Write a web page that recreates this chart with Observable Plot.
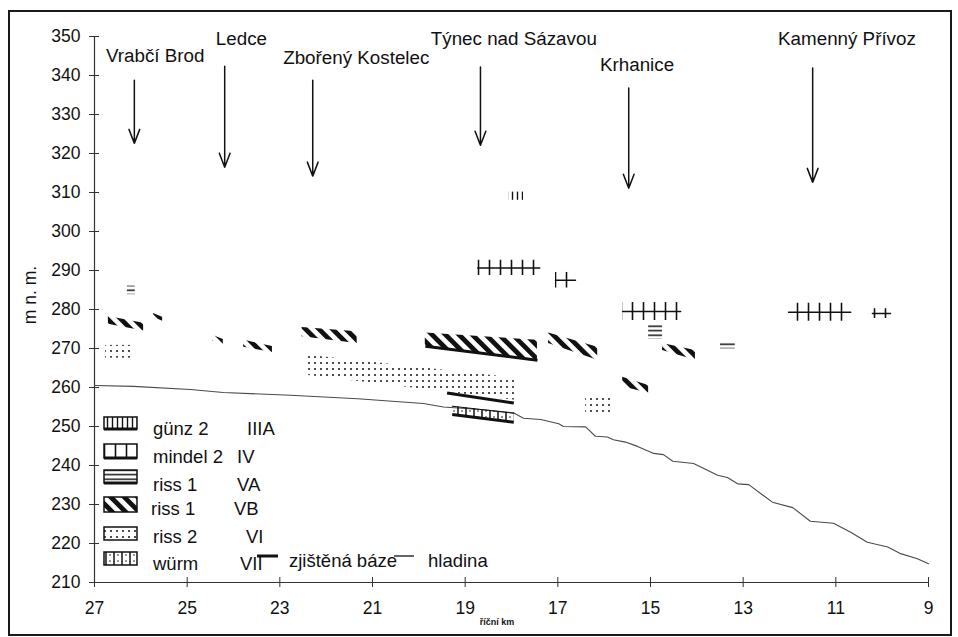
<!DOCTYPE html>
<html>
<head>
<meta charset="utf-8">
<script src="https://cdn.jsdelivr.net/npm/d3@7"></script>
<script src="https://cdn.jsdelivr.net/npm/@observablehq/plot@0.6"></script>
<style>
  body { margin: 0; background: #fff; font-family: "Liberation Sans", Arial, sans-serif; }
  #wrap { position: relative; width: 958px; height: 637px; overflow: hidden; }
  #wrap > svg { position: absolute; left: 0; top: 0; }
  #frame { position: absolute; left: 8px; top: 10px; width: 940px; height: 622px; border: 2px solid #1a1a1a; pointer-events: none; }
</style>
</head>
<body>
<svg width="0" height="0" style="position:absolute">
  <defs>
    <pattern id="pIIIA" width="5" height="5" patternUnits="userSpaceOnUse">
      <line x1="2.5" y1="0" x2="2.5" y2="5" stroke="#111" stroke-width="1.4"/>
    </pattern>
    <pattern id="pIV" width="11" height="10" patternUnits="userSpaceOnUse">
      <line x1="5.5" y1="0" x2="5.5" y2="10" stroke="#111" stroke-width="1.6"/>
    </pattern>
    <pattern id="pVA" width="6" height="4.5" patternUnits="userSpaceOnUse">
      <line x1="0" y1="2.2" x2="6" y2="2.2" stroke="#111" stroke-width="1.5"/>
    </pattern>
    <pattern id="pVB" width="9.5" height="9.5" patternUnits="userSpaceOnUse" patternTransform="rotate(-45)">
      <rect x="0" y="0" width="4.8" height="9.5" fill="#111"/>
    </pattern>
    <pattern id="pVI" width="6" height="6" patternUnits="userSpaceOnUse">
      <circle cx="3" cy="3" r="1.1" fill="#222"/>
    </pattern>
    <pattern id="pVII" width="8" height="6" patternUnits="userSpaceOnUse">
      <line x1="2" y1="0" x2="2" y2="6" stroke="#111" stroke-width="1.5"/>
      <circle cx="6" cy="3" r="0.8" fill="#111"/>
    </pattern>
  </defs>
</svg>
<div id="wrap"><div id="frame"></div></div>
<script>
// ---- data ----
const kmTicks = [27, 25, 23, 21, 19, 17, 15, 13, 11, 9];
const elevTicks = [210, 220, 230, 240, 250, 260, 270, 280, 290, 300, 310, 320, 330, 340, 350];

const riverKm = [27.0, 26.16, 24.93, 24.22, 22.77, 21.32, 19.9, 19.47, 18.6, 17.96,
  17.74, 17.37, 16.98, 16.88, 16.4, 16.19, 15.93, 15.8, 15.54, 15.28,
  14.93, 14.72, 14.52, 14.07, 13.55, 13.34, 13.12, 12.88, 12.37, 11.93,
  11.55, 11.05, 10.68, 10.32, 9.88, 9.6, 9.24, 9.0];
const riverLevel = [260.5, 260.3, 259.5, 258.7, 258.0, 257.1, 255.9, 255.0, 254.3, 253.5,
  252.1, 251.8, 250.7, 250.0, 249.9, 247.5, 247.3, 246.6, 246.0, 244.9,
  243.1, 242.8, 241.1, 240.5, 237.5, 236.9, 235.3, 235.1, 230.6, 229.2,
  225.7, 225.2, 222.9, 220.3, 219.1, 217.4, 216.1, 214.8];

const places = ["Vrabčí Brod", "Ledce", "Zbořený Kostelec", "Týnec nad Sázavou", "Krhanice", "Kamenný Přívoz"];
const labelKm = [25.69, 23.83, 21.35, 17.95, 15.29, 10.76];
const labelElev = [345.0, 349.4, 344.6, 349.4, 342.7, 349.4];
const arrowKm = [26.14, 24.19, 22.29, 18.67, 15.47, 11.5];
const arrowFrom = [338.8, 342.4, 338.8, 342.2, 336.8, 341.9];
const arrowTo = [322.6, 316.5, 314.2, 322.1, 311.1, 312.6];

// terrace fragments: [kmFrom, kmTo, topFrom, topTo, baseFrom, baseTo]
const terraceIIIA = [[18.06, 17.74, 310.1, 310.1, 308.0, 308.0]];
const terraceIV = [
  [18.73, 17.39, 292.6, 292.6, 288.7, 288.7],
  [17.05, 16.62, 289.5, 289.5, 285.5, 285.5],
  [15.6, 14.35, 281.8, 281.8, 277.2, 277.2],
  [12.02, 10.68, 281.6, 281.6, 277.0, 277.0],
  [10.21, 9.82, 280.2, 280.2, 277.7, 277.7]
];
const terraceVA = [
  [26.29, 26.12, 286.0, 286.0, 283.8, 283.8],
  [15.04, 14.74, 276.0, 276.0, 272.3, 272.3],
  [13.49, 13.17, 271.7, 271.7, 269.9, 269.9]
];
const terraceVB = [
  [26.7, 25.94, 278.2, 276.5, 276.2, 274.5],
  [25.73, 25.53, 279.0, 278.0, 278.0, 277.0],
  [24.45, 24.22, 273.4, 272.3, 272.0, 270.7],
  [23.78, 23.16, 272.1, 270.5, 270.3, 269.0],
  [22.52, 21.33, 275.4, 274.3, 273.0, 271.3],
  [19.86, 17.44, 274.0, 272.1, 270.6, 267.0],
  [17.2, 16.14, 274.0, 270.3, 271.3, 267.0],
  [15.6, 15.04, 262.6, 260.5, 260.2, 258.5],
  [14.74, 14.03, 271.3, 269.5, 269.5, 267.0]
];
const terraceVI = [
  [26.76, 26.18, 270.8, 270.8, 267.5, 267.5],
  [22.38, 17.9, 268.3, 262.4, 263.1, 256.7],
  [16.4, 15.82, 257.5, 257.5, 253.6, 253.6]
];
const terraceVII = [[19.28, 17.95, 255.2, 253.4, 253.1, 251.1]];
// confirmed base lines: [kmFrom, kmTo, elevFrom, elevTo]
const confirmedBase = [
  [19.86, 17.44, 270.6, 267.0],
  [19.39, 17.95, 258.6, 256.0],
  [19.28, 17.95, 253.1, 251.1]
];

const legendPattern = ["pIIIA", "pIV", "pVA", "pVB", "pVI", "pVII"];
const legendName = ["günz 2", "mindel 2", "riss 1", "riss 1", "riss 2", "würm"];
const legendCode = ["IIIA", "IV", "VA", "VB", "VI", "VII"];

// ---- build ----
const river = riverKm.map((km, i) => ({km, level: riverLevel[i]}));
const placeData = places.map((name, i) => ({name, lx: labelKm[i], ly: labelElev[i], ax: arrowKm[i], a1: arrowFrom[i], a2: arrowTo[i]}));
const rows = (arr) => arr.flatMap((r, i) => [
  {id: i, km: r[0], top: r[2], base: r[4]},
  {id: i, km: r[1], top: r[3], base: r[5]}
]);
const frag = (arr, pat) => Plot.areaY(rows(arr), {x: "km", y1: "base", y2: "top", z: "id", fill: `url(#${pat})`});

const chart = Plot.plot({
  width: 958,
  height: 637,
  marginLeft: 94,
  marginRight: 30,
  marginTop: 36,
  marginBottom: 55,
  x: {domain: [27, 9]},
  y: {domain: [210, 350]},
  style: {fontFamily: "'Liberation Sans', Arial, sans-serif", color: "#111", background: "transparent"},
  marks: [
    Plot.ruleX([27], {y1: 210, y2: 350, stroke: "#333", strokeWidth: 1.2}),
    Plot.ruleY([210], {x1: 27, x2: 9, stroke: "#333", strokeWidth: 1.2}),
    Plot.axisY(elevTicks, {tickSize: 10, dx: 5, tickPadding: 9, fontSize: 17.5, label: null, stroke: "#333"}),
    Plot.axisX(kmTicks, {tickSize: 10, dy: -5, tickPadding: 14, fontSize: 17.5, label: null, stroke: "#333", tickFormat: d => String(d)}),
    Plot.line(river, {x: "km", y: "level", stroke: "#4a4a4a", strokeWidth: 1.1}),
    frag(terraceVI, "pVI"),
    frag(terraceVB, "pVB"),
    frag(terraceVA, "pVA"),
    frag(terraceIV, "pIV"),
    frag(terraceIIIA, "pIIIA"),
    frag(terraceVII, "pVII"),
    Plot.line(rows(terraceIV), {x: "km", y: d => (d.top + d.base) / 2, z: "id", stroke: "#111", strokeWidth: 1.5}),
    Plot.line(rows(terraceVII), {x: "km", y: "top", z: "id", stroke: "#111", strokeWidth: 1}),
    Plot.link(confirmedBase, {x1: d => d[0], x2: d => d[1], y1: d => d[2], y2: d => d[3], stroke: "#111", strokeWidth: 3}),
    Plot.arrow(placeData, {x1: "ax", x2: "ax", y1: "a1", y2: "a2", stroke: "#111", strokeWidth: 1.5, headLength: 15, headAngle: 42}),
    Plot.text(placeData, {x: "lx", y: "ly", text: "name", fontSize: 18.8, fill: "#111"})
  ]
});
document.getElementById("wrap").prepend(chart);

// ---- overlay: axis titles and legend ----
const ov = d3.select("#wrap").append("svg")
  .attr("width", 958).attr("height", 637)
  .style("position", "absolute").style("left", 0).style("top", 0)
  .style("pointer-events", "none")
  .style("font-family", "'Liberation Sans', Arial, sans-serif");

ov.append("text").attr("transform", "translate(36,295) rotate(-90)")
  .attr("text-anchor", "middle").attr("font-size", 17.5).attr("fill", "#111").text("m n. m.");
ov.append("text").attr("x", 497).attr("y", 625).attr("text-anchor", "middle")
  .attr("font-size", 9).attr("font-weight", "bold").attr("fill", "#111").text("říční km");

const swTop = [417, 444, 470, 497, 527, 552];
const swH = [12, 14, 13, 15, 13, 13];
const baseY = [435, 463, 491, 515, 543, 570];
const codeX = [247, 237, 237, 234, 246, 240];
legendPattern.forEach((p, i) => {
  const g = ov.append("g");
  g.append("rect").attr("x", 104).attr("y", swTop[i]).attr("width", 33).attr("height", swH[i])
    .attr("fill", `url(#${p})`).attr("stroke", "#111").attr("stroke-width", 1.5);
  if (i < 3) {
    g.append("line").attr("x1", 104).attr("x2", 137).attr("y1", swTop[i] + swH[i]).attr("y2", swTop[i] + swH[i])
      .attr("stroke", "#111").attr("stroke-width", 3);
  }
  g.append("text").attr("x", i === 3 ? 151 : 153).attr("y", baseY[i]).attr("font-size", 18.5).attr("fill", "#111").text(legendName[i]);
  g.append("text").attr("x", codeX[i]).attr("y", baseY[i]).attr("font-size", 18.5).attr("fill", "#111").text(legendCode[i]);
});
ov.append("line").attr("x1", 257).attr("x2", 278).attr("y1", 556).attr("y2", 556).attr("stroke", "#111").attr("stroke-width", 3);
ov.append("text").attr("x", 289).attr("y", 567).attr("font-size", 18.5).attr("fill", "#111").text("zjištěná báze");
ov.append("line").attr("x1", 394).attr("x2", 414).attr("y1", 556).attr("y2", 556).attr("stroke", "#111").attr("stroke-width", 1.3);
ov.append("text").attr("x", 428).attr("y", 567).attr("font-size", 18.5).attr("fill", "#111").text("hladina");
</script>
</body>
</html>
